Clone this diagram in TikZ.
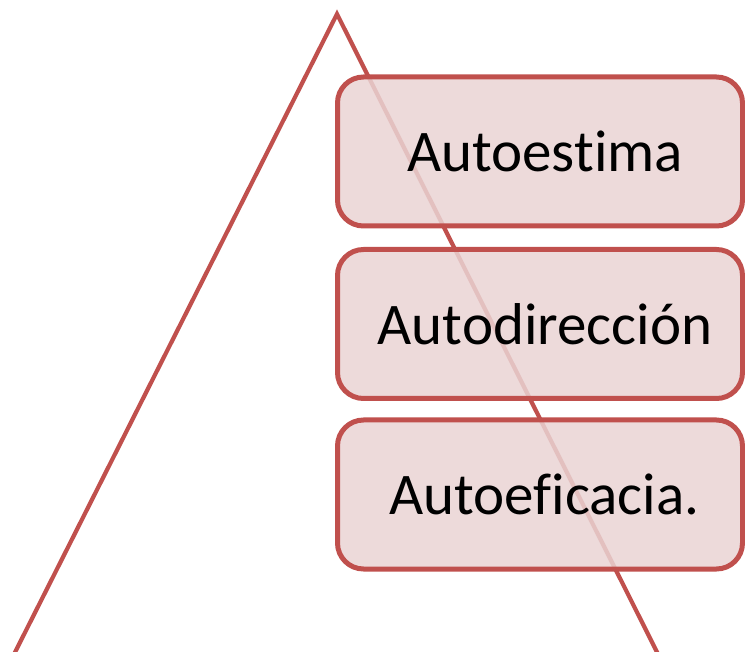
\documentclass[tikz,border=0pt]{standalone}
\usepackage{fontspec}
\setmainfont{Carlito}[Ligatures=NoCommon]
\definecolor{accred}{RGB}{192,80,77}
\definecolor{boxfill}{RGB}{234,212,212}
\begin{document}
\begin{tikzpicture}[x=1pt,y=-1pt,
  levelbox/.style={draw=accred, line width=5pt, fill=boxfill, fill opacity=0.85, text opacity=1,
    rounded corners=26pt, minimum width=405pt, minimum height=149pt, inner sep=0pt,
    font=\fontsize{59}{62}\selectfont},
  pyramidline/.style={draw=accred, line width=4.2pt, line join=miter}]
\useasboundingbox (0,0) rectangle (745,652);
\clip (0,0) rectangle (745,652);
\coordinate (apex) at (337,14);
\coordinate (baseL) at (-1,684);
\coordinate (baseR) at (673,684);
\draw[pyramidline] (baseL) -- (apex) -- (baseR);
\node[levelbox] (b1) at (540,151.5) {\hspace{10pt}Autoest\kern0pt ima};
\node[levelbox] (b2) at (540,324) {\hspace{10pt}Autodirección};
\node[levelbox] (b3) at (540,494.5) {\hspace{9pt}Autoef\kern0pt icacia.};
\end{tikzpicture}
\end{document}
